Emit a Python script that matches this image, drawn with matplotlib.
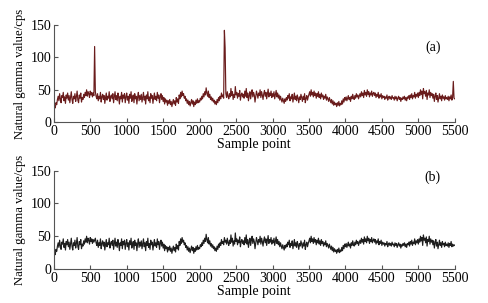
import numpy as np
import matplotlib
matplotlib.use("Agg")
import matplotlib.pyplot as plt

plt.rcParams['font.family'] = ['Liberation Serif', 'DejaVu Serif']
plt.rcParams['font.size'] = 10

# natural gamma log, every 10 sample points (0..5500)
step = 10
gamma = [
    20, 24, 22, 30, 27, 35, 40, 33, 44, 36, 30, 41, 38, 46, 33, 39, 29, 42, 37, 45,
    34, 41, 30, 38, 47, 35, 29, 40, 36, 44, 32, 39, 48, 34, 30, 42, 37, 45, 31, 38,
    35, 43, 38, 46, 41, 50, 40, 47, 44, 38, 48, 42, 46, 39, 45, 41, 44, 47, 40, 36,
    44, 33, 40, 36, 46, 31, 39, 43, 35, 41, 29, 38, 45, 34, 40, 37, 47, 32, 39, 42,
    36, 44, 30, 39, 47, 35, 41, 33, 45, 38, 28, 40, 36, 46, 31, 42, 37, 44, 30, 39,
    45, 34, 40, 29, 43, 37, 47, 32, 38, 42, 30, 44, 36, 40, 28, 39, 46, 33, 41, 35,
    43, 31, 38, 46, 34, 40, 28, 42, 36, 47, 33, 39, 30, 44, 37, 41, 29, 38, 45, 35,
    40, 33, 46, 37, 42, 30, 39, 44, 35, 41, 32, 38, 28, 36, 31, 34, 26, 33, 29, 35,
    27, 32, 24, 30, 35, 28, 33, 26, 38, 31, 36, 29, 42, 36, 46, 39, 48, 41, 44, 37,
    40, 33, 36, 29, 34, 27, 32, 25, 30, 35, 28, 33, 24, 31, 27, 34, 29, 36, 30, 33,
    31, 37, 34, 40, 36, 44, 39, 47, 42, 53, 45, 40, 48, 38, 43, 35, 39, 33, 37, 31,
    34, 28, 32, 27, 35, 30, 38, 33, 40, 36, 45, 39, 42, 37, 48, 41, 44, 38, 47, 40,
    36, 44, 39, 52, 41, 47, 35, 43, 38, 55, 42, 46, 37, 44, 40, 49, 34, 42, 45, 39,
    43, 37, 48, 40, 52, 38, 45, 33, 41, 47, 36, 44, 50, 39, 46, 42, 31, 40, 48, 43,
    37, 45, 41, 50, 38, 47, 42, 35, 44, 49, 40, 46, 36, 43, 51, 39, 45, 41, 48, 38,
    44, 40, 47, 36, 43, 49, 39, 45, 37, 42, 34, 40, 35, 31, 37, 33, 29, 36, 32, 38,
    34, 41, 37, 44, 33, 39, 36, 43, 31, 38, 45, 35, 40, 33, 42, 37, 30, 39, 35, 43,
    38, 32, 40, 35, 44, 30, 37, 41, 34, 39, 43, 47, 40, 50, 42, 46, 39, 48, 41, 45,
    37, 44, 40, 47, 38, 43, 36, 45, 39, 42, 35, 40, 37, 43, 34, 39, 36, 32, 38, 34,
    30, 35, 28, 33, 26, 31, 27, 29, 24, 30, 26, 32, 25, 29, 27, 33, 28, 36, 31, 38,
    34, 39, 33, 37, 41, 35, 38, 32, 40, 36, 43, 38, 35, 41, 37, 44, 39, 42, 36, 40,
    44, 39, 47, 41, 45, 38, 49, 42, 46, 40, 50, 43, 47, 39, 45, 42, 48, 40, 44, 46,
    41, 45, 38, 43, 40, 46, 37, 42, 39, 44, 36, 41, 38, 40, 35, 39, 37, 42, 34, 38,
    40, 36, 39, 35, 41, 37, 38, 34, 40, 36, 39, 33, 37, 40, 35, 38, 32, 37, 35, 39,
    36, 40, 34, 38, 33, 39, 37, 41, 35, 42, 38, 44, 36, 41, 39, 46, 37, 43, 40, 45,
    38, 46, 41, 50, 43, 48, 36, 52, 44, 47, 40, 49, 35, 45, 42, 50, 38, 46, 41, 44,
    37, 43, 32, 40, 45, 35, 41, 31, 38, 44, 36, 40, 33, 42, 37, 39, 34, 41, 36, 38,
    35, 40, 33, 39, 36, 42, 34, 38, 35, 37, 36,
]

# spikes present only in the raw record (a)
spike_pos = [560, 2340, 2350, 5480]
spike_val = [117, 142, 115, 63]

x = np.arange(len(gamma)) * step
raw = np.array(gamma, dtype=float)
for p, v in zip(spike_pos, spike_val):
    raw[p // step] = v
clean = np.array(gamma, dtype=float)

xticks = list(range(0, 5501, 500))
yticks = [0, 50, 100, 150]

fig = plt.figure(figsize=(4.89, 3.03), dpi=100)
ax1 = fig.add_axes([0.110, 0.597, 0.820, 0.320])
ax2 = fig.add_axes([0.110, 0.112, 0.820, 0.325])

for ax, y, col, tag, ty in [(ax1, raw, '#6a1c1c', '(a)', 116),
                            (ax2, clean, '#1e1e1e', '(b)', 140)]:
    ax.plot(x, y, color=col, lw=0.85)
    ax.set_xlim(0, 5500)
    ax.set_ylim(0, 150)
    ax.set_xticks(xticks)
    ax.set_yticks(yticks)
    ax.spines['top'].set_visible(False)
    ax.spines['right'].set_visible(False)
    for s in ('left', 'bottom'):
        ax.spines[s].set_color('#555555')
        ax.spines[s].set_linewidth(0.8)
    ax.tick_params(direction='in', length=3, width=0.8, color='#555555', pad=2)
    ax.set_xlabel('Sample point', labelpad=0)
    ax.set_ylabel('Natural gamma value/cps', fontsize=9.2, labelpad=3)
    ax.text(5200, ty, tag, ha='center', va='center')

fig.savefig('out.png', dpi=100)
